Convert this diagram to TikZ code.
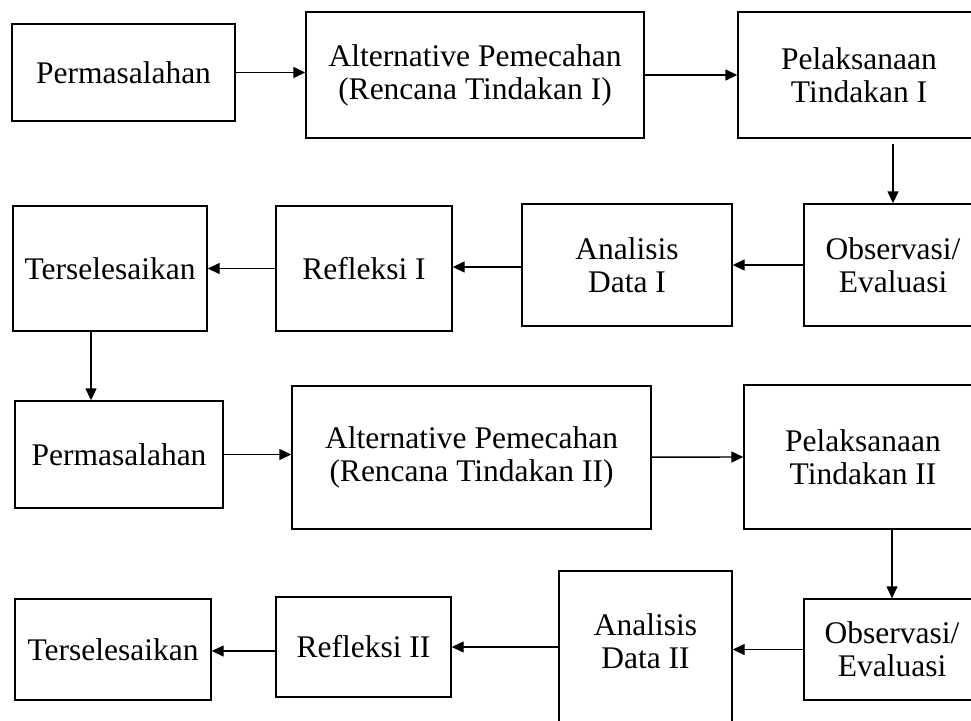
\documentclass[tikz,border=0pt]{standalone}
\usepackage{fontspec}
\setmainfont{Liberation Serif}
\usetikzlibrary{arrows.meta}

\begin{document}
\begin{tikzpicture}[x=1pt, y=-1pt,
    box/.style={draw, line width=1.4pt, rectangle, align=center, inner sep=0pt,
        font=\fontsize{31.5}{33}\selectfont},
    arr/.style={-{Triangle[length=12pt,width=11pt]}, line width=1.4pt}]

    \useasboundingbox (0, 0) rectangle (971, 720);

    % first cycle
    \node[box, minimum width=223pt, minimum height=97pt] (perm1) at (123.5, 72.5) {Permasalahan};
    \node[box, minimum width=338pt, minimum height=126pt] (alt1) at (475, 75) {Alternative Pemecahan\\(Rencana Tindakan I)};
    \node[box, minimum width=242pt, minimum height=126pt] (pel1) at (859, 75) {Pelaksanaan\\Tindakan I};
    \node[box, minimum width=178pt, minimum height=122pt] (obs1) at (893, 265) {Observasi/\\Evaluasi};
    \node[box, minimum width=210pt, minimum height=122pt] (ana1) at (627, 265) {Analisis\\Data I};
    \node[box, minimum width=176pt, minimum height=125pt] (ref1) at (364, 268.5) {Refleksi I};
    \node[box, minimum width=194pt, minimum height=125pt] (ters1) at (110, 268.5) {Terselesaikan};

    % second cycle
    \node[box, minimum width=208pt, minimum height=107pt] (perm2) at (119, 454.5) {Permasalahan};
    \node[box, minimum width=359pt, minimum height=143pt] (alt2) at (471.5, 457.5) {Alternative Pemecahan\\(Rencana Tindakan II)};
    \node[box, minimum width=238pt, minimum height=144pt] (pel2) at (863, 457) {Pelaksanaan\\Tindakan II};
    \node[box, minimum width=176pt, minimum height=101pt] (obs2) at (892, 649.5) {Observasi/\\Evaluasi};
    \node[box, minimum width=173pt, minimum height=169pt] (ana2) at (645.5, 655.5) {};
    \node[box, draw=none] (ana2txt) at (645.5, 641) {Analisis\\Data II};
    \node[box, minimum width=175pt, minimum height=100pt] (ref2) at (363.5, 647) {Refleksi II};
    \node[box, minimum width=196pt, minimum height=101pt] (ters2) at (113, 649.5) {Terselesaikan};

    \draw[arr] (perm1) -- (perm1 -| alt1.west);
    \draw[arr] (alt1) -- (pel1.west);
    \draw[arr] ([yshift=-5]pel1.south -| obs1) -- (obs1.north);
    \draw[arr] (obs1) -- (ana1.east);
    \draw[arr] ([yshift=-2]ana1.west) -- ([yshift=-2]ana1.west -| ref1.east);
    \draw[arr] (ref1) -- (ters1.east);
    \draw[arr] ([xshift=-19]ters1.south) -- ([xshift=-19]ters1.south |- perm2.north);

    \draw[arr] (perm2) -- (perm2 -| alt2.west);
    \draw[arr] (alt2) -- (pel2.west);
    \draw[arr] (pel2.south -| obs2) -- (obs2.north);
    \draw[arr] (obs2) -- (obs2 -| ana2.east);
    \draw[arr] (ref2 -| ana2.west) -- (ref2.east);
    \draw[arr] ([yshift=-4]ref2.west) -- ([yshift=-4]ref2.west -| ters2.east);
\end{tikzpicture}
\end{document}
